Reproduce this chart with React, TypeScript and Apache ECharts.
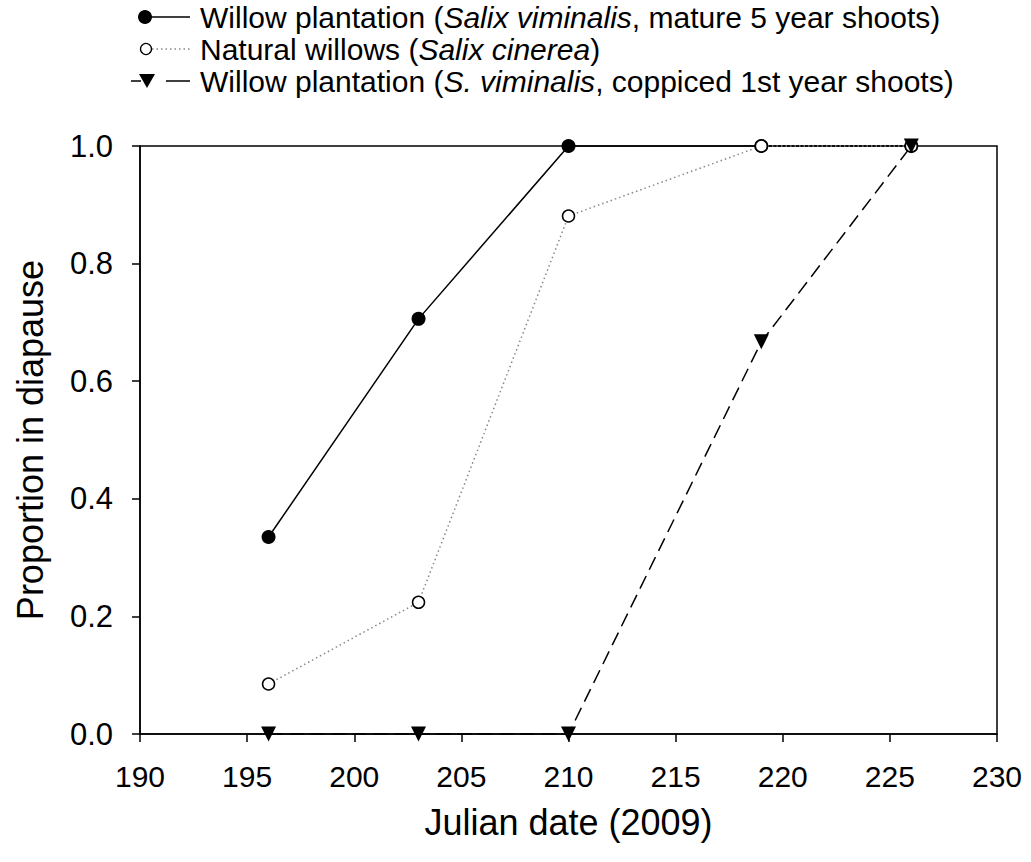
import React, { useEffect, useRef } from "react";
import * as echarts from "echarts";

const julianDates = [196, 203, 210, 219, 226];
const matureShoots = [0.335, 0.706, 1.0, 1.0, 1.0];
const naturalWillows = [0.085, 0.224, 0.881, 1.0, 1.0];
const coppicedShoots = [0.0, 0.0, 0.0, 0.667, 1.0];

const legendRows = [
  "Willow plantation ({i|Salix viminalis}, mature 5 year shoots)",
  "Natural willows ({i|Salix cinerea})",
  "Willow plantation ({i|S. viminalis}, coppiced 1st year shoots)",
];

const FONT = "'Liberation Sans', Arial, sans-serif";

export default function App() {
  const ref = useRef<HTMLDivElement>(null);
  useEffect(() => {
    const chart = echarts.init(ref.current!, null, { renderer: "svg" });
    const pair = (ys: number[]) => julianDates.map((x, i) => [x, ys[i]]);
    const legendY = [17, 49, 81];
    const textStyle = (t: string, y: number) => ({
      type: "text",
      x: 200,
      y: y,
      style: {
        text: t,
        fontFamily: FONT,
        fontSize: 30,
        fill: "#000",
        verticalAlign: "middle",
        rich: {
          i: { fontStyle: "italic", fontFamily: FONT, fontSize: 30, fill: "#000" },
        },
      },
    });
    const tri = (cx: number, cy: number) => ({
      type: "polygon",
      shape: { points: [[cx - 8, cy - 7], [cx + 8, cy - 7], [cx, cy + 7]] },
      style: { fill: "#000" },
    });
    chart.setOption({
      animation: false,
      grid: { left: 140, right: 34, top: 146, bottom: 128, show: true, borderColor: "#000", borderWidth: 1.5 },
      xAxis: {
        type: "value",
        min: 190,
        max: 230,
        interval: 5,
        name: "Julian date (2009)",
        nameLocation: "middle",
        nameGap: 70,
        nameTextStyle: { fontFamily: FONT, fontSize: 36, color: "#000" },
        axisLine: { show: true, lineStyle: { color: "#000", width: 1.5 } },
        axisTick: { show: true, length: 8, lineStyle: { color: "#000", width: 1.5 } },
        axisLabel: { fontFamily: FONT, fontSize: 30, color: "#000", margin: 27 },
        splitLine: { show: false },
      },
      yAxis: {
        type: "value",
        min: 0,
        max: 1,
        interval: 0.2,
        name: "Proportion in diapause",
        nameLocation: "middle",
        nameGap: 92,
        nameTextStyle: { fontFamily: FONT, fontSize: 36, color: "#000" },
        axisLine: { show: true, lineStyle: { color: "#000", width: 1.5 } },
        axisTick: { show: true, length: 8, lineStyle: { color: "#000", width: 1.5 } },
        axisLabel: {
          fontFamily: FONT,
          fontSize: 31,
          color: "#000",
          margin: 27,
          formatter: (v: number) => v.toFixed(1),
        },
        splitLine: { show: false },
      },
      series: [
        {
          name: "mature",
          type: "line",
          data: pair(matureShoots),
          symbol: "circle",
          symbolSize: 14,
          itemStyle: { color: "#000" },
          lineStyle: { color: "#000", width: 1.5 },
          clip: false,
        },
        {
          name: "natural",
          type: "line",
          data: pair(naturalWillows),
          symbol: "circle",
          symbolSize: 12,
          itemStyle: { color: "#fff", borderColor: "#000", borderWidth: 1.5 },
          lineStyle: { color: "#888", width: 1.5, type: [1.5, 3] },
          clip: false,
        },
        {
          name: "coppiced",
          type: "line",
          data: pair(coppicedShoots),
          symbol: "triangle",
          symbolRotate: 180,
          symbolSize: 15,
          itemStyle: { color: "#000" },
          lineStyle: { color: "#000", width: 1.5, type: [14, 7] },
          clip: false,
        },
      ],
      graphic: [
        { type: "line", shape: { x1: 142, y1: legendY[0], x2: 190, y2: legendY[0] }, style: { stroke: "#000", lineWidth: 1.5 } },
        { type: "circle", shape: { cx: 145, cy: legendY[0], r: 7 }, style: { fill: "#000" } },
        { type: "line", shape: { x1: 152, y1: legendY[1], x2: 190, y2: legendY[1] }, style: { stroke: "#888", lineWidth: 1.5, lineDash: [1.5, 3] } },
        { type: "circle", shape: { cx: 146, cy: legendY[1], r: 5.5 }, style: { fill: "#fff", stroke: "#000", lineWidth: 1.3 } },
        { type: "line", shape: { x1: 131, y1: legendY[2], x2: 190, y2: legendY[2] }, style: { stroke: "#000", lineWidth: 1.5, lineDash: [10, 25, 14, 0] } },
        tri(147, legendY[2]),
        textStyle(legendRows[0], legendY[0]),
        textStyle(legendRows[1], legendY[1]),
        textStyle(legendRows[2], legendY[2]),
      ],
    });
    return () => chart.dispose();
  }, []);
  return (
    <div
      ref={ref}
      style={{ position: "absolute", left: 0, top: 0, width: 1031, height: 862 }}
    />
  );
}
